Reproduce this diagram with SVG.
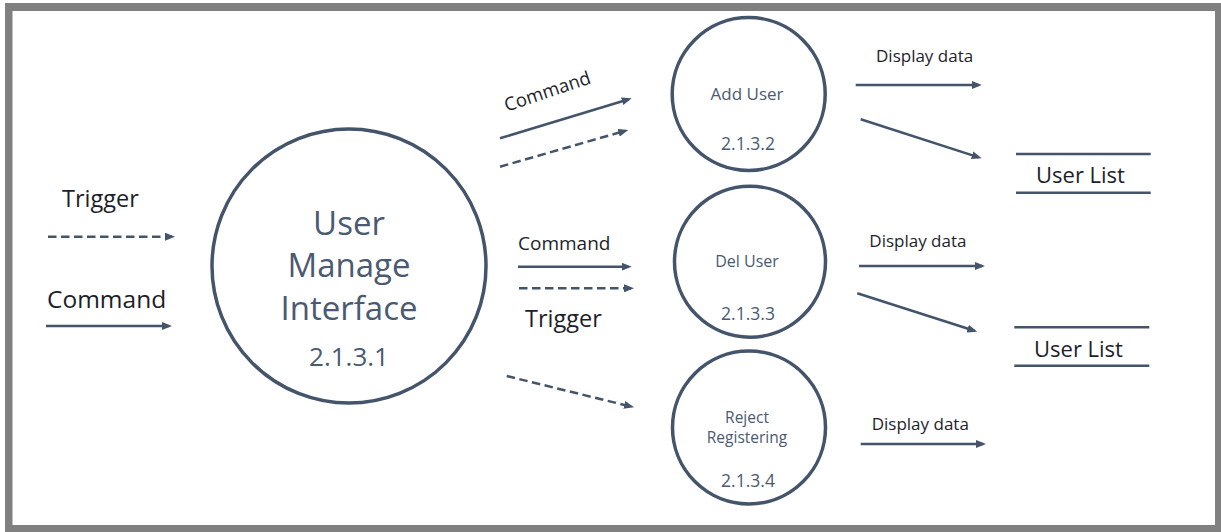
<svg xmlns="http://www.w3.org/2000/svg" width="1221" height="532" viewBox="0 0 1221 532">
<style>
.node{fill:#ffffff;stroke:#44546A;stroke-width:3.5}
.ntext{font-family:"Open Sans","Noto Sans",sans-serif;fill:#4a5a72;text-anchor:middle}
.lbl{font-family:"Open Sans","Noto Sans",sans-serif;fill:#1e1e2a}
.arr{stroke:#44546A;stroke-width:2.5;fill:none;marker-end:url(#ah)}
.dash{stroke-dasharray:8.5 4.5}
.store{stroke:#44546A;stroke-width:2.5}
</style>
<defs>
<marker id="ah" viewBox="0 0 10 8" markerWidth="10" markerHeight="8" refX="7" refY="4" orient="auto" markerUnits="userSpaceOnUse">
<path d="M0,0 L10,4 L0,8 z" fill="#44546A"/>
</marker>
</defs>
<rect x="0" y="0" width="1221" height="532" fill="#ffffff"/>
<rect x="5" y="3" width="1216" height="529" fill="#808080"/>
<rect x="12.5" y="11" width="1202.5" height="514" fill="#ffffff"/>

<g id="connectors">
<line class="arr dash" x1="48" y1="236.7" x2="172" y2="236.7"/>
<line class="arr" x1="46" y1="326" x2="169" y2="326"/>
<line class="arr" x1="500" y1="138.3" x2="628.8" y2="99.2"/>
<line class="arr dash" x1="500" y1="166.7" x2="625.4" y2="130.8"/>
<line class="arr" x1="518" y1="266.7" x2="628.7" y2="266.7"/>
<line class="arr dash" x1="519" y1="288.3" x2="631" y2="288.3"/>
<line class="arr dash" x1="506.7" y1="376" x2="631.1" y2="406.6"/>
<line class="arr" x1="855.7" y1="85" x2="978.7" y2="85"/>
<line class="arr" x1="860.7" y1="119.3" x2="978.8" y2="157.4"/>
<line class="arr" x1="859" y1="266" x2="982" y2="266"/>
<line class="arr" x1="857.3" y1="293.3" x2="974.4" y2="330.8"/>
<line class="arr" x1="860.7" y1="444" x2="983" y2="444"/>
<text class="lbl" x="62" y="207" font-size="23.5">Trigger</text>
<text class="lbl" x="47" y="308" font-size="24.5">Command</text>
<text class="lbl" x="0" y="0" font-size="18.5" transform="translate(506.7,111.7) rotate(-18.5)">Command</text>
<text class="lbl" x="518" y="250" font-size="19">Command</text>
<text class="lbl" x="525" y="326.7" font-size="23.5">Trigger</text>
<text class="lbl" x="876" y="61.7" font-size="17">Display data</text>
<text class="lbl" x="869.3" y="246.7" font-size="17">Display data</text>
<text class="lbl" x="871.7" y="430" font-size="17">Display data</text>
</g>

<g id="node-2131">
<circle class="node" cx="349" cy="266" r="137"/>
<text class="ntext" x="349" y="235" font-size="33">User</text>
<text class="ntext" x="349" y="277" font-size="33">Manage</text>
<text class="ntext" x="349" y="320" font-size="33">Interface</text>
<text class="ntext" x="349" y="366" font-size="26">2.1.3.1</text>
</g>

<g id="node-2132">
<circle class="node" cx="748.7" cy="94" r="76.5"/>
<text class="ntext" x="747" y="100" font-size="17">Add User</text>
<text class="ntext" x="748" y="150" font-size="17.5">2.1.3.2</text>
</g>

<g id="node-2133">
<circle class="node" cx="750" cy="261.7" r="75.5"/>
<text class="ntext" x="747" y="266.7" font-size="16">Del User</text>
<text class="ntext" x="748" y="320" font-size="17.5">2.1.3.3</text>
</g>

<g id="node-2134">
<circle class="node" cx="749" cy="427.5" r="76.5"/>
<text class="ntext" x="747" y="423" font-size="15.5">Reject</text>
<text class="ntext" x="747" y="443" font-size="15.5">Registering</text>
<text class="ntext" x="748" y="486.7" font-size="17.5">2.1.3.4</text>
</g>

<g id="store-userlist-1">
<line class="store" x1="1016" y1="154" x2="1150.7" y2="154"/>
<line class="store" x1="1016" y1="192.7" x2="1150.7" y2="192.7"/>
<text class="lbl" x="1036" y="183.3" font-size="22">User List</text>
</g>

<g id="store-userlist-2">
<line class="store" x1="1014.3" y1="327.3" x2="1149.3" y2="327.3"/>
<line class="store" x1="1014.3" y1="365.7" x2="1149.3" y2="365.7"/>
<text class="lbl" x="1034" y="356.7" font-size="22">User List</text>
</g>
</svg>
